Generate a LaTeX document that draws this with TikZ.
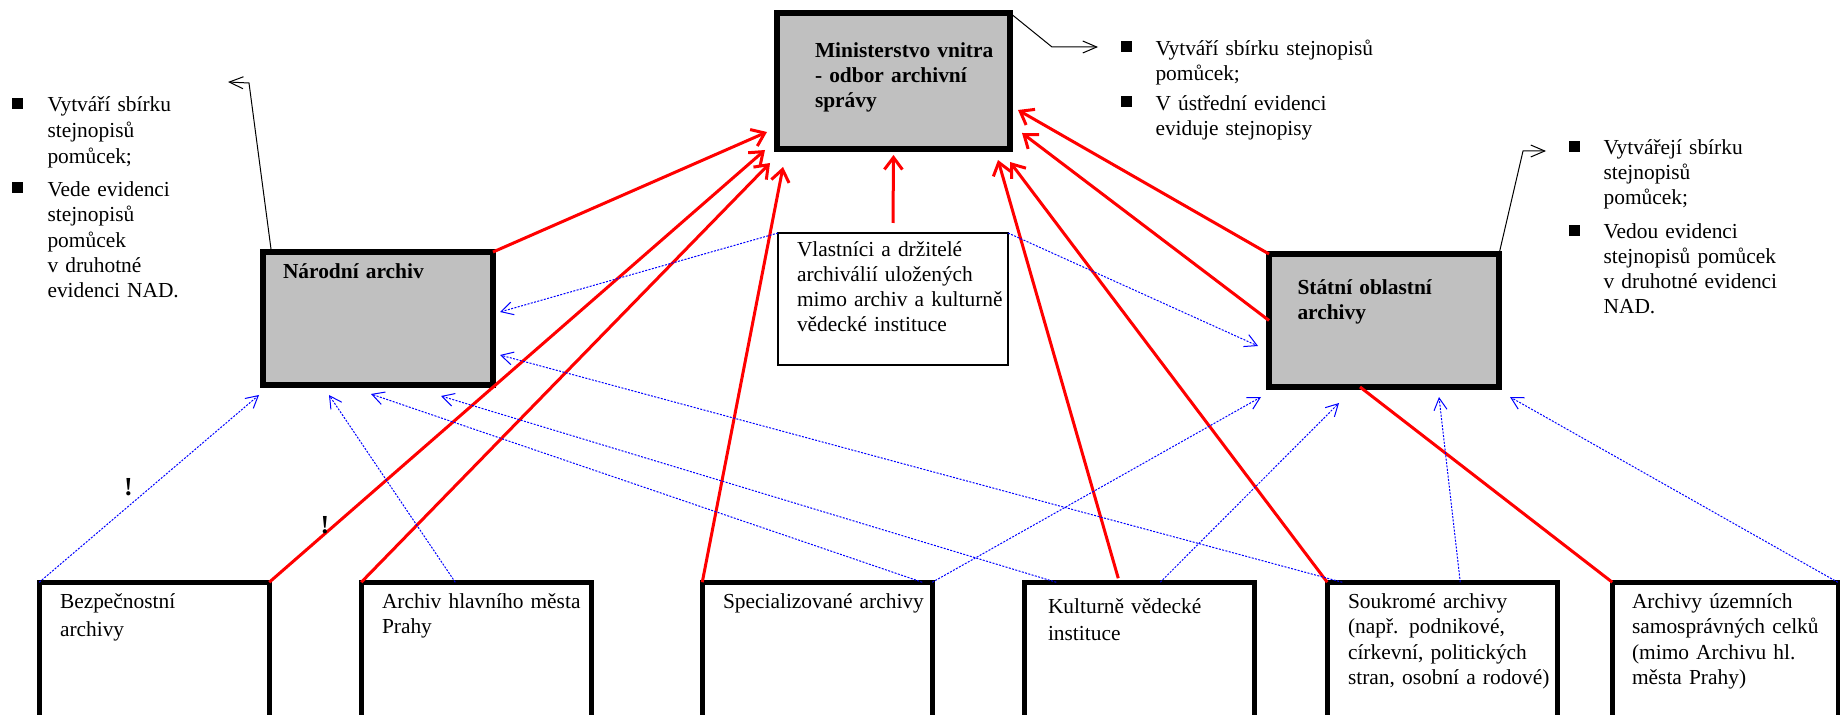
\documentclass[tikz,border=0pt]{standalone}
\usepackage{fontspec}
\setmainfont{Liberation Serif}
\usetikzlibrary{arrows.meta}
\definecolor{boxgray}{RGB}{192,192,192}
\begin{document}
\begin{tikzpicture}[x=0.5pt,y=-0.5pt,
  graybox/.style={draw=black, fill=boxgray, line width=3pt, rectangle, inner sep=0pt, outer sep=0pt, anchor=north west},
  whitebox/.style={draw=black, fill=white, line width=2.25pt, rectangle, inner sep=0pt, outer sep=0pt, anchor=north west, minimum width=115pt, minimum height=100pt},
  thinbox/.style={draw=black, fill=white, line width=1pt, rectangle, inner sep=0pt, outer sep=0pt, anchor=north west},
  txt/.style={inner sep=0pt, outer sep=0pt, anchor=base west, align=left, text width=200pt, font=\fontsize{10.7pt}{12.5pt}\selectfont},
  btxt/.style={txt, font=\fontsize{10.7pt}{12.5pt}\selectfont\bfseries},
  bul/.style={fill=black, draw=none, rectangle, inner sep=0pt, outer sep=0pt, minimum size=5.5pt},
  excl/.style={inner sep=0pt, font=\fontsize{13pt}{14pt}\selectfont\bfseries},
  redarr/.style={draw=red, line width=1.5pt, -{Straight Barb[length=6pt,width=9pt]}},
  redline/.style={draw=red, line width=1.5pt},
  bluearr/.style={draw=blue, line width=0.5pt, dash pattern=on 1pt off 0.7pt, -{Straight Barb[length=6pt,width=6.5pt]}},
  blackarr/.style={draw=black, line width=0.5pt, -{Straight Barb[length=7pt,width=6pt]}}
]
\useasboundingbox (0,0) rectangle (1840,715);
\fill[white] (0,0) rectangle (1840,715);
\clip (0,0) rectangle (1840,715);

% boxes
\node[graybox, minimum width=116.5pt, minimum height=68pt] (mv) at (777,13) {};
\node[graybox, minimum width=115pt, minimum height=66.5pt] (na) at (263,252) {};
\node[graybox, minimum width=115pt, minimum height=66.5pt] (so) at (1269,254) {};
\node[thinbox, minimum width=115pt, minimum height=66pt] (vl) at (778,233) {};
\node[whitebox] (b1) at (39.25,582.25) {};
\node[whitebox] (b2) at (361.25,582.25) {};
\node[whitebox] (b3) at (702.25,582.25) {};
\node[whitebox] (b4) at (1024.25,582.25) {};
\node[whitebox] (b5) at (1327.25,582.25) {};
\node[whitebox, minimum width=112.75pt] (b6) at (1612.25,582.25) {};

% red connectors
\draw[redarr] (na.north east) -- ([shift={(-10,-17)}]mv.south west);
\draw[redarr] (b1.north east) -- ([shift={(-12,1)}]mv.south west);
\draw[redarr] (b2.north west) -- ([shift={(-7,14)}]mv.south west);
\draw[redarr] (b3.north west) -- ([shift={(6,18)}]mv.south west);
\draw[redarr] ([shift={(0,-10)}]vl.north) -- ([shift={(0,6)}]mv.south);
\draw[redarr] ([shift={(94,-4)}]b4.north west) -- ([shift={(-12,11)}]mv.south east);
\draw[redarr] (b5.north west) -- ([shift={(0,13)}]mv.south east);
\draw[redarr] (so.north west) -- ([shift={(8,29)}]mv.east);
\draw[redarr] (so.west) -- ([shift={(12,52)}]mv.east);
\draw[redline] ([shift={(91,0)}]so.south west) -- (b6.north west);

% blue connectors
\draw[bluearr] (vl.north west) -- ([shift={(7,-6.5)}]na.east);
\draw[bluearr] (vl.north east) -- ([shift={(-11,25.5)}]so.west);
\draw[bluearr] ([shift={(15,0)}]b5.north west) -- ([shift={(7,36.5)}]na.east);
\draw[bluearr] (b1.north west) -- ([shift={(-4,10)}]na.south west);
\draw[bluearr] ([shift={(94,0)}]b2.north west) -- ([shift={(66,10)}]na.south west);
\draw[bluearr] ([shift={(-10,0)}]b3.north east) -- ([shift={(108,9)}]na.south west);
\draw[bluearr] ([shift={(32,0)}]b4.north west) -- ([shift={(178,11)}]na.south west);
\draw[bluearr] ([shift={(136,0)}]b4.north west) -- ([shift={(70,16)}]so.south west);
\draw[bluearr] (b3.north east) -- ([shift={(-8,10)}]so.south west);
\draw[bluearr] ([shift={(133,0)}]b5.north west) -- ([shift={(170,10)}]so.south west);
\draw[bluearr] (b6.north east) -- ([shift={(241,10)}]so.south west);

% black connectors
\draw[blackarr] (mv.north east) -- ([shift={(42,34)}]mv.north east) -- ([shift={(88,34)}]mv.north east);
\draw[blackarr] ([shift={(8,-3)}]na.north west) -- ([shift={(-14,-169)}]na.north west) -- ([shift={(-35,-170)}]na.north west);
\draw[blackarr] (so.north east) -- ([shift={(24,-103)}]so.north east) -- ([shift={(47,-103)}]so.north east);

% texts in boxes
\node[btxt] (mvt) at (815,57.5) {Ministerstvo vnitra\\- odbor archivní\\správy};
\node[btxt] (nat) at (283,278.5) {Národní archiv};
\node[btxt] (sot) at (1297.5,295) {Státní oblastní\\archivy};
\node[txt] (vlt) at (797,257) {Vlastníci a držitelé\\archiválií uložených\\mimo archiv a kulturně\\vědecké instituce};
\node[txt, font=\fontsize{10.7pt}{14pt}\selectfont] (b1t) at (60,608.5) {Bezpečnostní\\archivy};
\node[txt] (b2t) at (382,608.5) {Archiv hlavního města\\Prahy};
\node[txt] (b3t) at (723,608.5) {Specializované archivy};
\node[txt, font=\fontsize{10.7pt}{13.3pt}\selectfont] (b4t) at (1048,613.5) {Kulturně vědecké\\instituce};
\node[txt, font=\fontsize{10.7pt}{12.65pt}\selectfont] (b5t) at (1348,608.5) {Soukromé archivy\\(např. podnikové,\\církevní, politických\\stran, osobní a rodové)};
\node[txt, font=\fontsize{10.7pt}{12.65pt}\selectfont] (b6t) at (1632,608.5) {Archivy územních\\samosprávných celků\\(mimo Archivu hl.\\města Prahy)};

% bullet lists
\node[bul] (bm1) at (1126,47) {};
\node[bul] (bm2) at (1126,102) {};
\node[txt] (lm1) at (1155.5,55.5) {Vytváří sbírku stejnopisů\\pomůcek;};
\node[txt] (lm2) at (1155.5,110.5) {V ústřední evidenci\\eviduje stejnopisy};

\node[bul] (bn1) at (17.5,104) {};
\node[bul] (bn2) at (17.5,188) {};
\node[txt, font=\fontsize{10.7pt}{12.9pt}\selectfont] (ln1) at (47.5,112) {Vytváří sbírku\\stejnopisů\\pomůcek;};
\node[txt, font=\fontsize{10.7pt}{12.65pt}\selectfont] (ln2) at (47.5,196.5) {Vede evidenci\\stejnopisů\\pomůcek\\v druhotné\\evidenci NAD.};

\node[bul] (bs1) at (1574,146.5) {};
\node[bul] (bs2) at (1574,230.5) {};
\node[txt] (ls1) at (1603.6,155) {Vytvářejí sbírku\\stejnopisů\\pomůcek;};
\node[txt] (ls2) at (1603.6,239) {Vedou evidenci\\stejnopisů pomůcek\\v druhotné evidenci\\NAD.};

% exclamation marks
\node[excl] (ex1) at (128.5,486.7) {!};
\node[excl] (ex2) at (325,525) {!};
\end{tikzpicture}
\end{document}
